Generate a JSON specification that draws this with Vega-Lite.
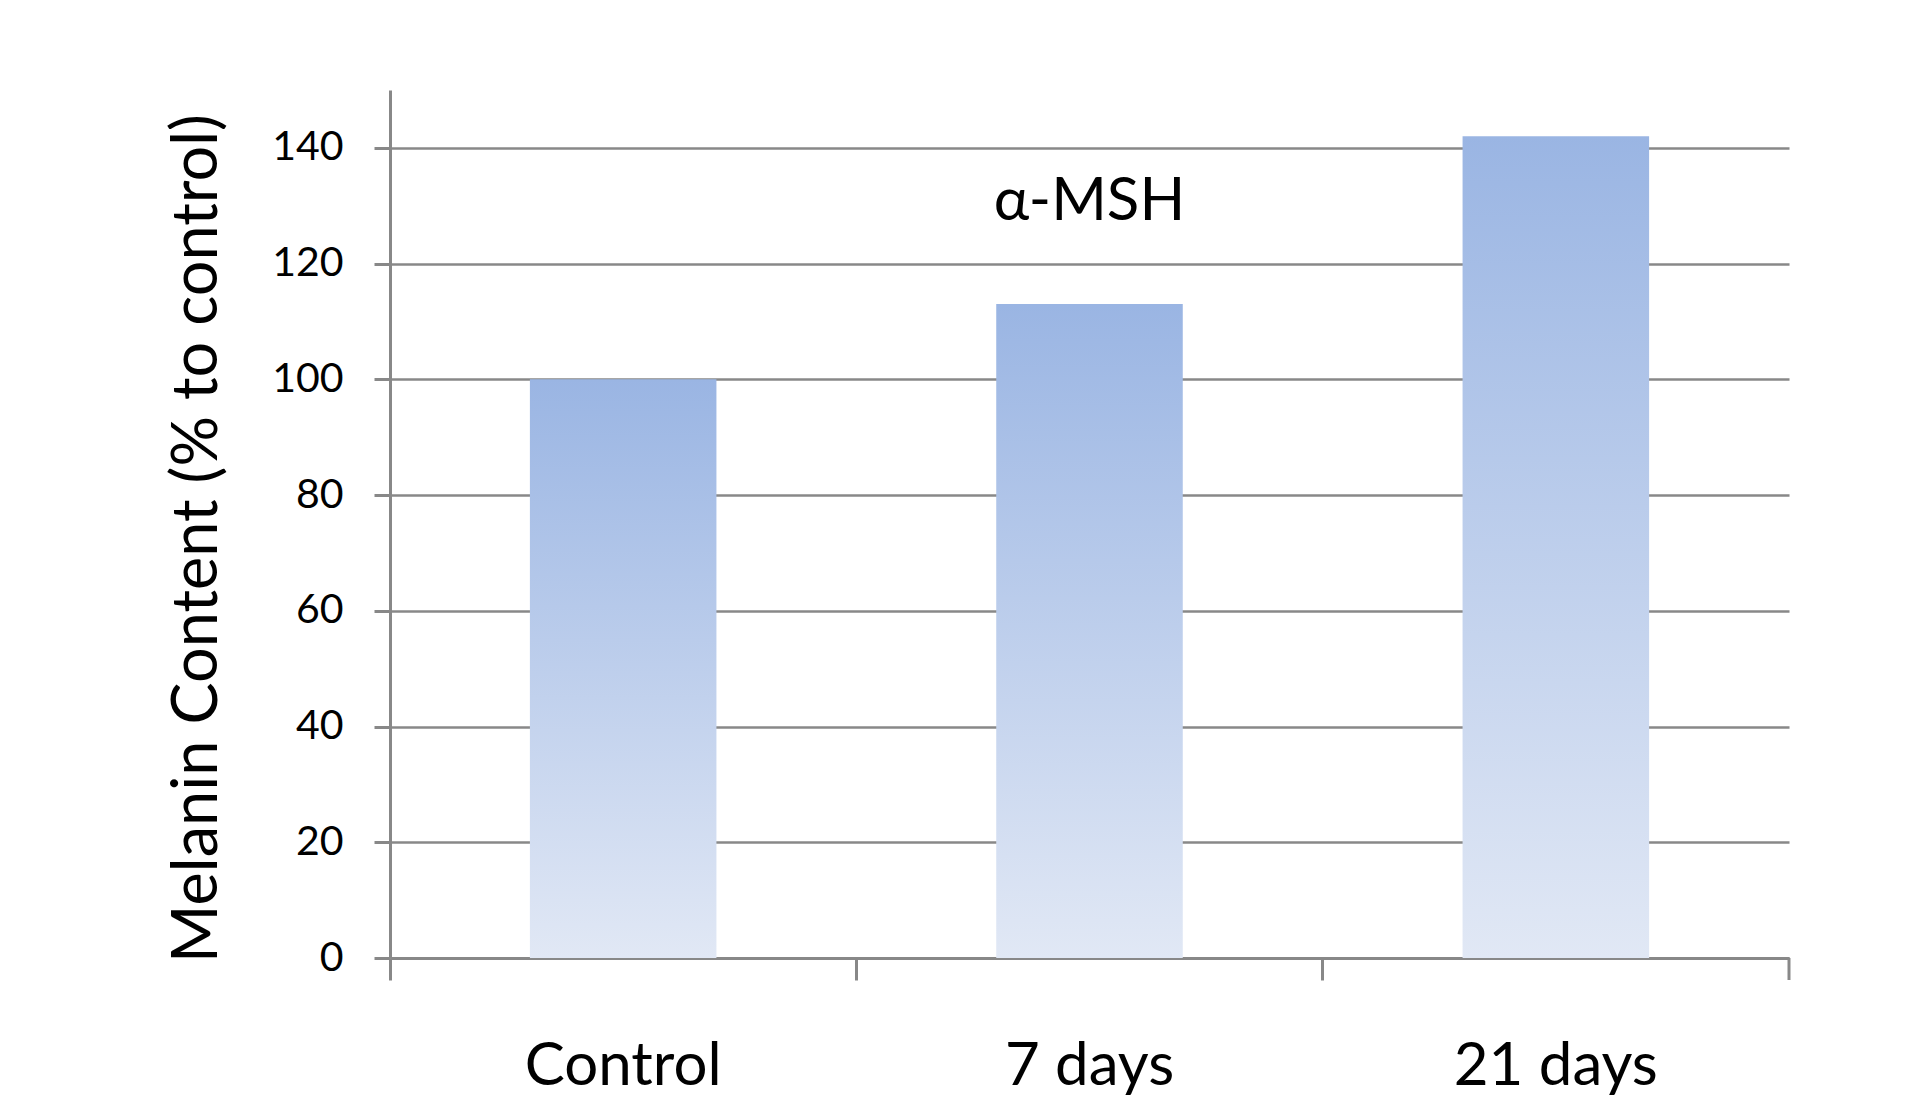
{
  "$schema": "https://vega.github.io/schema/vega-lite/v6.json",
  "autosize": {"type": "none"},
  "width": 1399,
  "height": 868,
  "padding": {"left": 390, "top": 90, "right": 126, "bottom": 158},
  "background": "white",
  "config": {
    "view": {"stroke": null},
    "font": "Lato"
  },
  "data": {
    "values": [
      {"group": "Control", "value": 100},
      {"group": "7 days", "value": 113},
      {"group": "21 days", "value": 142}
    ]
  },
  "layer": [
    {
      "mark": {
        "type": "bar",
        "width": {"band": 0.4},
        "fill": {
          "gradient": "linear",
          "x1": 0, "y1": 0, "x2": 0, "y2": 1,
          "stops": [
            {"offset": 0, "color": "#9ab5e3"},
            {"offset": 1, "color": "#e1e8f5"}
          ]
        }
      },
      "encoding": {
        "x": {
          "field": "group",
          "type": "nominal",
          "sort": null,
          "scale": {"paddingInner": 0, "paddingOuter": 0},
          "axis": {
            "title": null,
            "bandPosition": 0,
            "labelAngle": 0,
            "labelFont": "Lato",
            "labelFontSize": 60,
            "labelColor": "#000000",
            "labelBaseline": "alphabetic",
            "labelPadding": 104,
            "labelLimit": 0,
            "domainColor": "#888888",
            "domainWidth": 3,
            "tickColor": "#888888",
            "tickWidth": 3,
            "tickSize": 22,
            "grid": false
          }
        },
        "y": {
          "field": "value",
          "type": "quantitative",
          "scale": {"domain": [0, 150], "nice": false},
          "axis": {
            "title": "Melanin Content (% to control)",
            "values": [0, 20, 40, 60, 80, 100, 120, 140],
            "labelFont": "Lato",
            "labelFontSize": 41,
            "labelColor": "#000000",
            "labelPadding": 31,
            "domainColor": "#888888",
            "domainWidth": 3,
            "tickColor": "#888888",
            "tickWidth": 3,
            "tickSize": 16,
            "grid": true,
            "gridColor": "#888888",
            "gridWidth": 2.5,
            "titleFont": "Lato",
            "titleFontSize": 63,
            "titleFontWeight": "normal",
            "titleColor": "#000000",
            "titleAngle": -90,
            "titleAlign": "center",
            "titleBaseline": "alphabetic",
            "titleX": -174,
            "titleY": 448,
            "titleLimit": 0
          }
        }
      }
    },
    {
      "data": {"values": [{"label": "α-MSH"}]},
      "mark": {"type": "text", "font": "Lato", "fontSize": 60, "baseline": "alphabetic", "align": "center", "color": "#000000"},
      "encoding": {
        "x": {"datum": "7 days"},
        "y": {"datum": 127.5},
        "text": {"field": "label"}
      }
    },
    {
      "data": {"values": [{"edge": "end"}]},
      "mark": {"type": "rule", "color": "#888888", "strokeWidth": 3, "y2Offset": 22},
      "encoding": {
        "x": {"datum": "21 days", "bandPosition": 1},
        "y": {"datum": 0},
        "y2": {"datum": 0}
      }
    }
  ]
}
